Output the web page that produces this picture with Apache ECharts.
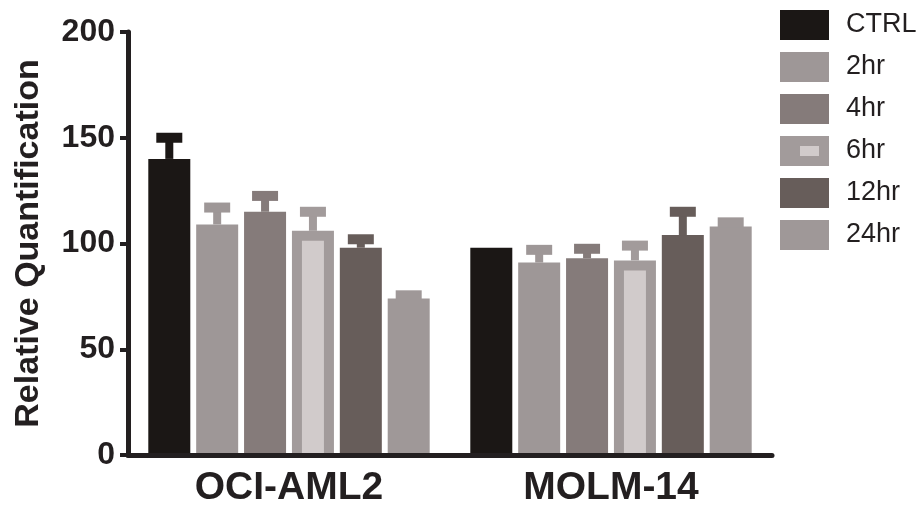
<!DOCTYPE html>
<html>
<head>
<meta charset="utf-8">
<title>Relative Quantification</title>
<script src="https://cdn.jsdelivr.net/npm/echarts@6/dist/echarts.min.js"></script>
<style>
  html, body { margin: 0; padding: 0; background: #fff; }
  #chart { width: 922px; height: 511px; }
</style>
</head>
<body>
<div id="chart"></div>
<script>
// 柱状图 + 误差线
const categories = ['OCI-AML2', 'MOLM-14'];
const seriesNames = ['CTRL', '2hr', '4hr', '6hr', '12hr', '24hr'];
const yTicks = [0, 50, 100, 150, 200];

const ctrl = [140, 98];
const ctrlErr = [10, 0];
const hr2 = [109, 91];
const hr2Err = [8, 6];
const hr4 = [115, 93];
const hr4Err = [7.5, 4.5];
const hr6 = [106, 92];
const hr6Err = [9, 7];
const hr12 = [98, 104];
const hr12Err = [4, 11];
const hr24 = [74, 108];
const hr24Err = [1.5, 2];

const means = [ctrl, hr2, hr4, hr6, hr12, hr24];
const errs = [ctrlErr, hr2Err, hr4Err, hr6Err, hr12Err, hr24Err];
const colors = ['#1b1715', '#9e9797', '#857b7a', '#a29b9b', '#675d5a', '#9f9898'];
const innerColor = '#d1cbcb'; // 6hr 内框
const axisColor = '#231f20';
const font = '"Liberation Sans", Arial, sans-serif';

const barW = 42;
const gapRatio = 0.14;

const chart = echarts.init(document.getElementById('chart'));

// 误差线（及 6hr 的内框）
function errorSeries(idx) {
  return {
    type: 'custom',
    name: seriesNames[idx],
    z: 3,
    data: means[idx].map((m, i) => [i, m, errs[idx][i]]),
    encode: { x: 0, y: 1 },
    renderItem: function (params, api) {
      const cat = api.value(0);
      const mean = api.value(1);
      const err = api.value(2);
      const base = api.coord([cat, 0]);
      const top = api.coord([cat, mean]);
      const hi = api.coord([cat, mean + err]);
      const x = base[0] + (idx - (seriesNames.length - 1) / 2) * barW * (1 + gapRatio);
      const style = { fill: colors[idx] };
      const children = [];
      if (err > 0) {
        children.push({ type: 'rect', shape: { x: x - 4, y: hi[1], width: 8, height: top[1] - hi[1] }, style: style });
        children.push({ type: 'rect', shape: { x: x - 13, y: hi[1] - 5, width: 26, height: 10 }, style: style });
      }
      if (idx === 3) {
        children.push({ type: 'rect', shape: { x: x - 11, y: top[1] + 10, width: 22, height: base[1] - top[1] - 10 }, style: { fill: innerColor } });
      }
      return { type: 'group', children: children };
    }
  };
}

const barSeries = seriesNames.map((name, idx) => ({
  type: 'bar',
  name: name,
  data: means[idx],
  barWidth: barW,
  barGap: (gapRatio * 100) + '%',
  itemStyle: { color: colors[idx] }
}));

const option = {
  animation: false,
  grid: { left: 128, right: 150, top: 32, bottom: 56, outerBoundsMode: 'none' },
  legend: [
    {
      orient: 'vertical',
      left: 780,
      top: 10,
      padding: 0,
      itemWidth: 49,
      itemHeight: 30,
      itemGap: 12,
      icon: 'rect',
      data: seriesNames,
      textStyle: { fontFamily: font, fontSize: 27, color: axisColor, padding: [2, 0, 0, 12] }
    },
    {
      // 6hr 图例中间的浅色块
      orient: 'vertical',
      left: 800,
      top: 146,
      padding: 0,
      itemWidth: 19,
      itemHeight: 10,
      icon: 'rect',
      selectedMode: false,
      data: ['6hr'],
      itemStyle: { color: innerColor },
      textStyle: { fontSize: 8, color: 'rgba(0,0,0,0)' }
    }
  ],
  xAxis: {
    type: 'category',
    data: categories,
    z: 5,
    axisLine: { lineStyle: { color: axisColor, width: 5 } },
    axisTick: { alignWithLabel: true, length: 9, lineStyle: { color: axisColor, width: 4 } },
    axisLabel: { margin: 14, fontFamily: font, fontWeight: 'bold', fontSize: 39, color: axisColor }
  },
  yAxis: {
    type: 'value',
    min: yTicks[0],
    max: yTicks[yTicks.length - 1],
    interval: yTicks[1] - yTicks[0],
    z: 5,
    name: 'Relative Quantification',
    nameLocation: 'middle',
    nameGap: 82,
    nameTextStyle: { fontFamily: font, fontWeight: 'bold', fontSize: 34, color: axisColor },
    axisLine: { show: true, lineStyle: { color: axisColor, width: 5 } },
    axisTick: { show: true, length: 8, lineStyle: { color: axisColor, width: 4 } },
    axisLabel: { margin: 13, fontFamily: font, fontWeight: 'bold', fontSize: 32, color: axisColor },
    splitLine: { show: false } // 无网格线
  },
  series: barSeries.concat(seriesNames.map((n, idx) => errorSeries(idx)))
};

chart.setOption(option);
</script>
</body>
</html>
